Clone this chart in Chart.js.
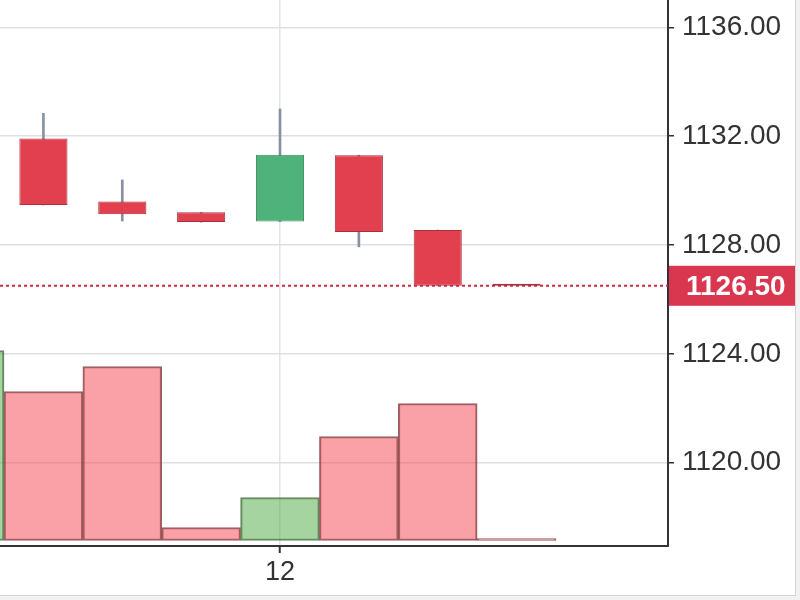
<!DOCTYPE html>
<html>
<head>
<meta charset="utf-8">
<script src="https://cdn.jsdelivr.net/npm/chart.js@4.4.1/dist/chart.umd.min.js"></script>
<style>
    html, body { margin: 0; padding: 0; background: #f1f1f1; }
    #wrap {
        position: absolute; left: 0; top: 0;
        width: 795px; height: 595px;
        background: #fff;
        border-right: 1px solid #d4d4d4;
        border-bottom: 1px solid #d4d4d4;
    }
</style>
</head>
<body>
<div id="wrap"><canvas id="priceChart" width="795" height="595"></canvas></div>
<script>
/* DATA */

const candleIndex = [0, 1, 2, 3, 4, 5, 6, 7];
const opens  = [null, 1131.91, 1129.60, 1129.20, 1128.86, 1131.30, 1128.55, 1126.50];
const highs  = [null, 1132.84, 1130.39, 1129.20, 1133.00, 1131.30, 1128.55, 1126.50];
const lows   = [null, 1129.47, 1128.88, 1128.84, 1128.86, 1127.93, 1126.50, 1126.50];
const closes = [null, 1129.47, 1129.13, 1128.84, 1131.32, 1128.48, 1126.50, 1126.50];
const volumes = [1900, 1490, 1740, 130, 430, 1040, 1370, 10];
const volumeSide = ["up", "down", "down", "down", "up", "down", "down", "down"];
const priceTicks = [1120, 1124, 1128, 1132, 1136];
const timeTickAt = [4];
const timeTickLabels = ["12"];
const lastPrice = 1126.50;

/* VIEW WINDOW */

const xMin = 0.4494, xMax = 8.92;
const yMin = 1116.937, yMax = 1137.003;

const UP = "#4fb27a", UP_EDGE = "#3b8f5f";
const DOWN = "#e2404f", DOWN_EDGE = "#a8303c";

Chart.defaults.font.family = "Arial, 'Liberation Sans', sans-serif";

const shown = candleIndex.filter(i => opens[i] !== null);
const isUp = i => closes[i] > opens[i];

const bodyData = shown.map(i => ({x: i, y: [opens[i], closes[i]]}));
const wickData = shown.map(i => ({x: i, y: [lows[i], highs[i]]}));
const volumeData = candleIndex.map(i => ({x: i, y: volumes[i]}));

/* last price tag on the axis */
const lastPriceTag = {
    id: "lastPriceTag",
    afterDraw(chart) {
        const {ctx, chartArea, scales} = chart;
        const y = scales.y.getPixelForValue(lastPrice);
        ctx.save();
        ctx.fillStyle = "#d9364f";
        ctx.fillRect(chartArea.right + 1, y - 20, chart.width - chartArea.right - 1, 40);
        ctx.fillStyle = "#fff";
        ctx.font = "bold 28px Arial, 'Liberation Sans', sans-serif";
        ctx.textBaseline = "middle";
        ctx.fillText(lastPrice.toFixed(2), chartArea.right + 18, y + 1);
        ctx.restore();
    }
};

const noEdgePadding = s => {
    s.paddingTop = 0;
    s.paddingBottom = 0;
    s.paddingLeft = 0;
    s.paddingRight = 0;
};

const ctx = document.getElementById("priceChart");

new Chart(ctx, {
    type: "bar",
    data: {
        datasets: [
            {
                type: "line",
                data: [{x: xMin, y: lastPrice}, {x: xMax, y: lastPrice}],
                borderColor: "#d0283f",
                borderWidth: 2,
                borderDash: [3, 3],
                pointRadius: 0,
                yAxisID: "y",
                order: 3
            },
            {
                data: bodyData,
                backgroundColor: shown.map(i => isUp(i) ? UP : DOWN),
                borderColor: shown.map(i => isUp(i) ? UP_EDGE : DOWN_EDGE),
                borderWidth: 1,
                borderSkipped: false,
                barPercentage: 0.61,
                categoryPercentage: 1,
                minBarLength: 2,
                grouped: false,
                yAxisID: "y",
                order: 1
            },
            {
                data: wickData,
                backgroundColor: "#8692a2",
                barThickness: 2,
                grouped: false,
                yAxisID: "y",
                order: 2
            },
            {
                data: volumeData,
                backgroundColor: volumeSide.map(s => s === "up" ? "rgba(78,170,68,0.5)" : "rgba(244,67,77,0.5)"),
                borderColor: volumeSide.map(s => s === "up" ? "rgba(70,105,60,0.8)" : "rgba(125,60,62,0.8)"),
                borderWidth: 1.5,
                borderSkipped: false,
                barPercentage: 1,
                categoryPercentage: 1,
                minBarLength: 2,
                grouped: false,
                yAxisID: "vol",
                order: 4
            }
        ]
    },
    options: {
        responsive: false,
        animation: false,
        layout: { padding: 0 },
        plugins: {
            legend: { display: false },
            tooltip: { enabled: false }
        },
        scales: {
            x: {
                type: "linear",
                min: xMin,
                max: xMax,
                offset: false,
                afterBuildTicks: s => { s.ticks = timeTickAt.map(v => ({value: v})); },
                ticks: {
                    callback: (v, i) => timeTickLabels[i],
                    color: "#333",
                    font: { size: 27 },
                    padding: 3,
                    maxRotation: 0,
                    autoSkip: false
                },
                grid: { offset: false, color: "#dfe4ea", lineWidth: 1.5, tickColor: "#333", tickLength: 7, tickWidth: 2 },
                border: { color: "#333", width: 2 },
                afterFit: s => { s.height = 49; noEdgePadding(s); }
            },
            y: {
                position: "right",
                min: yMin,
                max: yMax,
                beginAtZero: false,
                afterBuildTicks: s => { s.ticks = priceTicks.map(v => ({value: v})); },
                ticks: {
                    callback: v => v.toFixed(2),
                    color: "#333",
                    font: { size: 28 },
                    padding: 8
                },
                grid: { color: "#e0e0e0", lineWidth: 1.5, tickColor: "#333", tickLength: 6, tickWidth: 1.5 },
                border: { color: "#333", width: 2 },
                afterFit: s => { s.width = 127; noEdgePadding(s); }
            },
            vol: {
                display: false,
                min: -55,
                max: 5405
            }
        }
    },
    plugins: [lastPriceTag]
});
</script>
</body>
</html>
